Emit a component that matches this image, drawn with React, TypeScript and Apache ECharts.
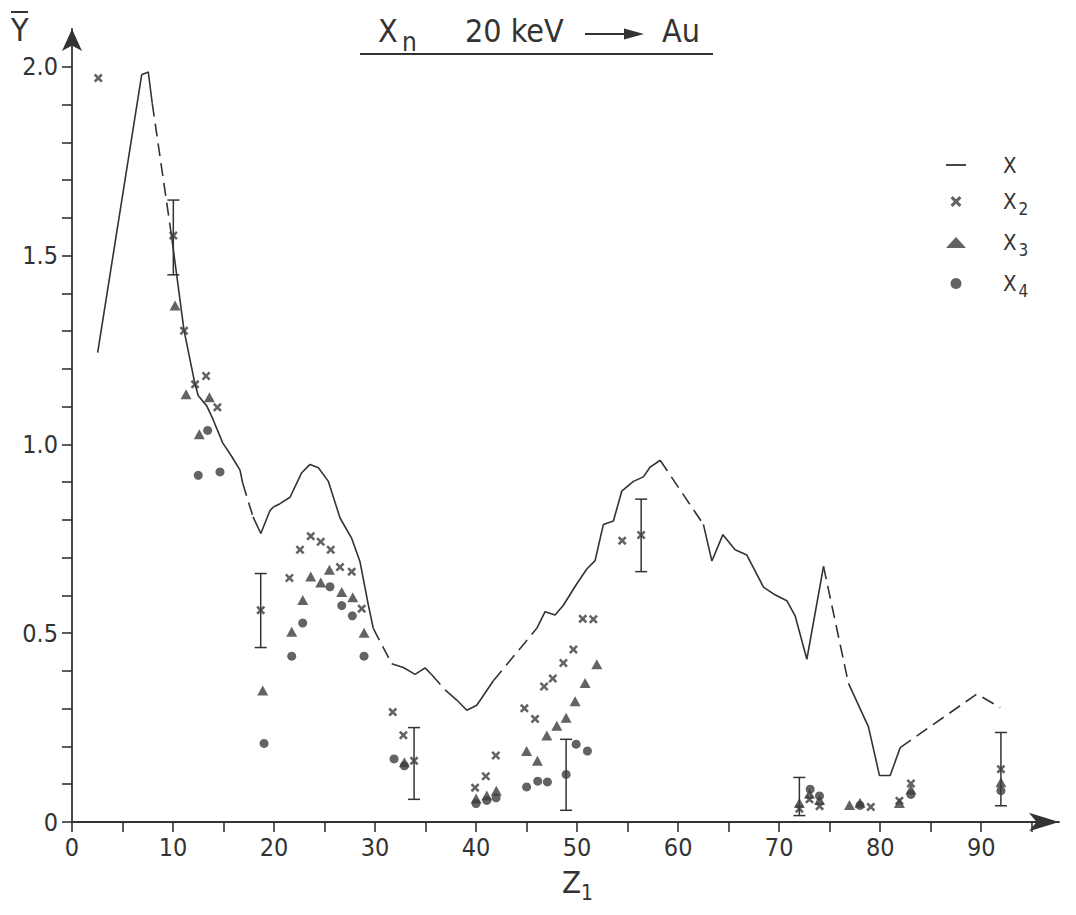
import React, { useEffect, useRef } from "react";
import * as echarts from "echarts";

const FONT = '"Liberation Sans Narrow", "DejaVu Sans Condensed", "Liberation Sans", sans-serif';
const INK = "#333333";

// axis ticks / labels
const xTickValues = [0, 5, 10, 15, 20, 25, 30, 35, 40, 45, 50, 55, 60, 65, 70, 75, 80, 85, 90, 95];
const xLabelValues = [0, 10, 20, 30, 40, 50, 60, 70, 80, 90];
const yTickValues = [0, 0.1, 0.2, 0.3, 0.4, 0.5, 0.6, 0.7, 0.8, 0.9, 1.0, 1.1, 1.2, 1.3, 1.4, 1.5, 1.6, 1.7, 1.8, 1.9, 2.0];
const yLabelValues = [0, 0.5, 1.0, 1.5, 2.0];

// curve X : solid segments (joined by dashed interpolations)
const curveSeg1 = [[2.54, 1.243], [6.9, 1.979], [7.55, 1.986], [7.95, 1.902]];
const curveSeg2 = [[9.8, 1.562], [11.09, 1.302], [12.18, 1.159], [12.5, 1.129], [13.34, 1.102], [13.96, 1.066], [14.92, 1.004], [15.81, 0.968], [16.63, 0.932], [16.9, 0.897]];
const curveSeg3 = [[17.92, 0.808], [18.69, 0.764], [19.6, 0.825], [19.93, 0.834]];
const curveSeg4 = [[20.59, 0.843], [21.58, 0.86], [22.74, 0.925], [23.56, 0.947], [24.39, 0.938], [25.38, 0.902], [26.53, 0.805], [27.69, 0.751], [28.51, 0.689], [29.34, 0.574], [29.83, 0.512]];
const curveSeg5 = [[31.65, 0.419], [32.8, 0.409], [33.96, 0.391], [34.95, 0.408], [35.61, 0.39]];
const curveSeg6 = [[36.93, 0.35], [38.09, 0.323], [39.08, 0.296], [40.07, 0.309], [41.71, 0.374]];
const curveSeg7 = [[46.01, 0.513], [46.83, 0.557], [47.82, 0.548], [48.64, 0.574], [49.97, 0.631], [50.96, 0.67], [51.78, 0.692], [52.6, 0.788], [53.59, 0.797], [54.42, 0.876], [55.57, 0.902], [56.56, 0.914], [57.23, 0.94], [58.22, 0.958]];
const curveSeg8 = [[62.5, 0.788], [63.34, 0.691], [64.43, 0.761], [65.64, 0.721], [66.8, 0.707], [68.45, 0.622], [69.44, 0.604], [70.76, 0.586], [71.58, 0.546], [72.74, 0.431], [74.39, 0.677]];
const curveSeg9 = [[76.86, 0.367], [78.84, 0.252], [79.93, 0.123], [80.99, 0.123], [81.98, 0.197]];
const curveDashedTail = [[81.98, 0.197], [89.57, 0.339], [91.88, 0.303]];
const curveSolidSegments = [curveSeg1, curveSeg2, curveSeg3, curveSeg4, curveSeg5, curveSeg6, curveSeg7, curveSeg8, curveSeg9];

// X2 (crosses)
const x2Points = [
  [2.6, 1.97], [10.03, 1.553], [11.09, 1.301], [12.18, 1.159], [13.27, 1.181], [14.39, 1.098],
  [18.68, 0.561], [21.52, 0.646], [22.57, 0.721], [23.63, 0.757], [24.62, 0.742], [25.61, 0.721],
  [26.53, 0.675], [27.69, 0.663], [28.68, 0.565], [31.75, 0.291], [32.8, 0.23], [33.86, 0.162],
  [39.9, 0.091], [40.96, 0.121], [41.95, 0.176], [44.78, 0.301], [45.84, 0.273], [46.73, 0.359],
  [47.59, 0.38], [48.64, 0.421], [49.63, 0.457], [50.56, 0.538], [51.61, 0.537], [54.46, 0.745],
  [56.34, 0.76], [72.0, 0.035], [73.0, 0.06], [74.0, 0.042], [79.07, 0.04], [81.9, 0.056],
  [83.04, 0.102], [91.95, 0.14],
];
// X3 (triangles)
const x3Points = [
  [10.2, 1.368], [11.29, 1.133], [12.6, 1.027], [13.6, 1.125], [18.88, 0.348], [21.75, 0.504],
  [22.84, 0.588], [23.63, 0.65], [24.62, 0.634], [25.48, 0.668], [26.7, 0.609], [27.79, 0.595],
  [28.91, 0.501], [32.9, 0.158], [40.0, 0.062], [41.06, 0.07], [42.0, 0.083], [45.0, 0.188],
  [46.07, 0.162], [47.0, 0.229], [47.99, 0.255], [48.91, 0.276], [49.8, 0.32], [50.79, 0.368],
  [51.95, 0.418], [72.0, 0.05], [73.0, 0.075], [74.0, 0.058], [76.96, 0.045], [78.0, 0.051],
  [81.9, 0.05], [83.04, 0.086], [91.95, 0.105],
];
// X4 (dots)
const x4Points = [
  [12.5, 0.918], [13.43, 1.037], [14.65, 0.927], [19.01, 0.208], [21.75, 0.439], [22.84, 0.527],
  [25.54, 0.623], [26.7, 0.573], [27.75, 0.546], [28.91, 0.439], [31.88, 0.167], [32.9, 0.149],
  [40.0, 0.049], [41.06, 0.057], [41.98, 0.064], [45.0, 0.093], [46.1, 0.108], [47.06, 0.106],
  [48.91, 0.126], [49.9, 0.206], [51.02, 0.188], [73.07, 0.087], [73.99, 0.069], [78.0, 0.044],
  [83.04, 0.073], [91.95, 0.083],
];
// error bars: [Z, low, high]
const errorBars = [
  [10.03, 1.449, 1.647], [18.68, 0.462, 0.658], [33.86, 0.06, 0.25], [48.91, 0.031, 0.219],
  [56.34, 0.663, 0.855], [72.0, 0.017, 0.118], [91.95, 0.043, 0.237],
];

const legendNames = ["X", "X2", "X3", "X4"];

const CROSS = "path://M0,2 L2,0 L5,3 L8,0 L10,2 L7,5 L10,8 L8,10 L5,7 L2,10 L0,8 L3,5 Z";
const DASH_ICON = "path://M0,0 L20,0 L20,1.8 L0,1.8 Z";

export default function App() {
  const ref = useRef<HTMLDivElement>(null);
  useEffect(() => {
    document.body.style.margin = "0";
    const chart = echarts.init(ref.current!, null, { renderer: "svg" });

    const solidSeries = curveSolidSegments.map((seg) => ({
      type: "line",
      name: "X",
      data: seg,
      symbol: "none",
      lineStyle: { color: INK, width: 1.6 },
      itemStyle: { color: INK },
      z: 3,
    }));
    const dashedData: number[][][] = [];
    for (let k = 0; k < curveSolidSegments.length - 1; k++) {
      const a = curveSolidSegments[k];
      const b = curveSolidSegments[k + 1];
      dashedData.push([a[a.length - 1], b[0]]);
    }
    dashedData.push(curveDashedTail);
    const dashedSeries = dashedData.map((seg) => ({
      type: "line",
      name: "X interpolated",
      data: seg,
      symbol: "none",
      lineStyle: { color: INK, width: 1.6, type: [13, 7] },
      z: 3,
    }));

    const option: any = {
      animation: false,
      backgroundColor: "#ffffff",
      textStyle: { fontFamily: FONT },
      grid: { left: 72, right: 17, top: 29, bottom: 93 },
      legend: {
        data: legendNames.map((n) => (n === "X" ? { name: n, icon: DASH_ICON, itemStyle: { color: INK } } : { name: n })),
        orient: "vertical",
        left: 941,
        top: 149,
        itemWidth: 20,
        itemHeight: 11,
        itemGap: 10,
        selectedMode: false,
        textStyle: {
          fontFamily: FONT,
          color: INK,
          fontSize: 22,
          height: 28,
          padding: [0, 0, 0, 32],
          rich: {
            m: { fontFamily: FONT, fontSize: 22, color: INK, lineHeight: 28 },
            s: { fontFamily: FONT, fontSize: 17, color: INK, padding: [14, 0, 0, 2], lineHeight: 28 },
          },
        },
        formatter: (name: string) => (name === "X" ? "{m|X}" : `{m|X}{s|${name.slice(1)}}`),
      },
      xAxis: {
        type: "value",
        min: 0,
        max: 97.7,
        splitLine: { show: false },
        axisLine: {
          lineStyle: { color: INK, width: 1.8 },
          symbol: ["none", "arrow"],
          symbolSize: [14, 30],
        },
        axisTick: { customValues: xTickValues, length: 10, lineStyle: { color: INK, width: 1.6 } },
        axisLabel: {
          customValues: xLabelValues,
          margin: 13,
          fontSize: 25,
          color: INK,
          fontFamily: FONT,
          formatter: (v: number) => String(v),
        },
      },
      yAxis: {
        type: "value",
        min: 0,
        max: 2.1,
        splitLine: { show: false },
        axisLine: {
          lineStyle: { color: INK, width: 1.8 },
          symbol: ["none", "arrow"],
          symbolSize: [15, 22],
        },
        axisTick: { customValues: yTickValues, length: 10, lineStyle: { color: INK, width: 1.6 } },
        axisLabel: {
          customValues: yLabelValues,
          margin: 14,
          fontSize: 25,
          color: INK,
          fontFamily: FONT,
          formatter: (v: number) => (v === 0 ? "0" : v.toFixed(1)),
        },
      },
      series: [
        ...solidSeries,
        ...dashedSeries,
        {
          type: "custom",
          name: "error bars",
          data: errorBars,
          encode: { x: 0, y: [1, 2] },
          z: 4,
          renderItem: (params: any, api: any) => {
            const z = api.value(0);
            const lo = api.coord([z, api.value(1)]);
            const hi = api.coord([z, api.value(2)]);
            const w = 6;
            const st = { stroke: INK, lineWidth: 1.5 };
            return {
              type: "group",
              children: [
                { type: "line", shape: { x1: lo[0], y1: lo[1], x2: hi[0], y2: hi[1] }, style: st },
                { type: "line", shape: { x1: lo[0] - w, y1: lo[1], x2: lo[0] + w, y2: lo[1] }, style: st },
                { type: "line", shape: { x1: hi[0] - w, y1: hi[1], x2: hi[0] + w, y2: hi[1] }, style: st },
              ],
            };
          },
        },
        {
          type: "scatter",
          name: "X2",
          data: x2Points,
          symbol: CROSS,
          symbolSize: 9,
          itemStyle: { color: "#3c3c3c" },
          z: 5,
        },
        {
          type: "scatter",
          name: "X3",
          data: x3Points,
          symbol: "triangle",
          symbolSize: [11, 10],
          itemStyle: { color: "#3c3c3c" },
          z: 5,
        },
        {
          type: "scatter",
          name: "X4",
          data: x4Points,
          symbol: "circle",
          symbolSize: 9,
          itemStyle: { color: "#3c3c3c" },
          z: 5,
        },
      ],
      graphic: [
        // Y-bar axis name
        { type: "text", left: 11, top: 14, style: { text: "Y", font: `32px ${FONT}`, fill: INK } },
        { type: "line", shape: { x1: 11, y1: 12, x2: 28, y2: 12 }, style: { stroke: INK, lineWidth: 2 } },
        // Z1 axis name
        { type: "text", left: 562, top: 866, style: { text: "Z", font: `31px ${FONT}`, fill: INK } },
        { type: "text", left: 581, top: 882, style: { text: "1", font: `21px ${FONT}`, fill: INK } },
        // title
        { type: "text", left: 378, top: 15, style: { text: "X", font: `32px ${FONT}`, fill: INK } },
        { type: "text", left: 402, top: 29, style: { text: "n", font: `26px ${FONT}`, fill: INK } },
        { type: "text", left: 465, top: 15, style: { text: "20 keV", font: `32px ${FONT}`, fill: INK } },
        { type: "line", shape: { x1: 585, y1: 34, x2: 630, y2: 34 }, style: { stroke: INK, lineWidth: 2.2 } },
        { type: "polygon", shape: { points: [[624, 28.5], [644, 34], [624, 39.5]] }, style: { fill: INK } },
        { type: "text", left: 662, top: 15, style: { text: "Au", font: `32px ${FONT}`, fill: INK } },
        { type: "line", shape: { x1: 360, y1: 54, x2: 713, y2: 54 }, style: { stroke: INK, lineWidth: 2 } },
      ],
    };
    chart.setOption(option);
    return () => chart.dispose();
  }, []);
  return <div ref={ref} style={{ width: 1076, height: 915 }} />;
}
